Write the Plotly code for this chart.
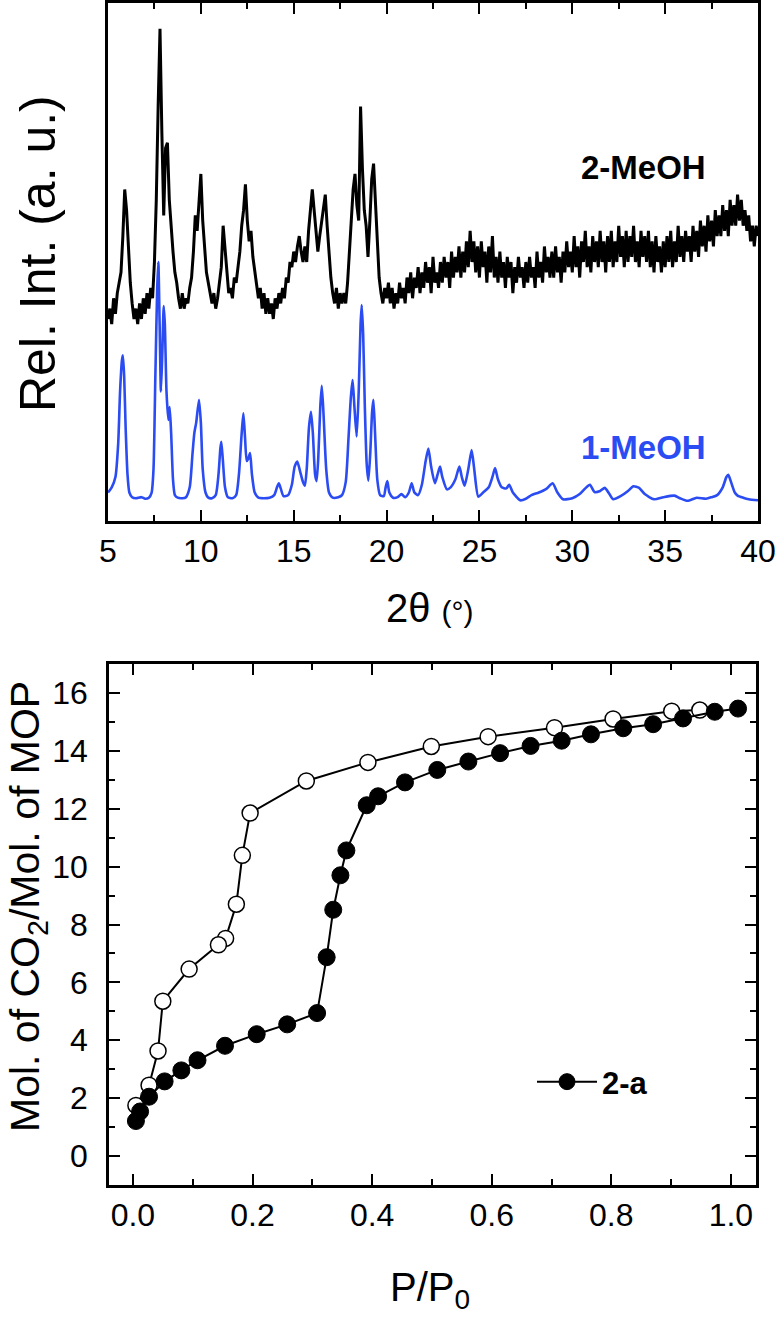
import numpy as np
import plotly.graph_objects as go

# ---------------- XRD data (top panel) ----------------
# 2-MeOH experimental pattern: intensities read at 0.1 deg steps from 5.0 to 40.0
meoh2_start, meoh2_step = 5.0, 0.1
meoh2_int = [
    39, 41, 38, 43, 40, 44, 46, 48, 55, 64,   # 5.0-5.9
    60, 52, 46, 42, 39, 41, 38, 42, 39, 43,   # 6.0-6.9
    40, 44, 41, 45, 43, 50, 62, 80, 95, 75,   # 7.0-7.9
    59, 72, 73, 62, 56, 52, 48, 46, 43, 41,   # 8.0-8.9
    44, 41, 43, 42, 45, 47, 52, 59, 56, 62,   # 9.0-9.9
    67, 58, 52, 48, 46, 44, 42, 44, 41, 43,   # 10.0-10.9
    46, 49, 57, 52, 47, 44, 45, 43, 47, 46,   # 11.0-11.9
    49, 52, 57, 60, 65, 58, 54, 56, 51, 48,   # 12.0-12.9
    46, 43, 45, 41, 44, 40, 43, 40, 42, 39,   # 13.0-13.9
    43, 41, 44, 42, 45, 43, 47, 46, 50, 49,   # 14.0-14.9
    52, 50, 53, 55, 52, 50, 53, 50, 56, 60,   # 15.0-15.9
    64, 60, 55, 52, 55, 58, 61, 63, 57, 51,   # 16.0-16.9
    47, 44, 42, 45, 41, 44, 42, 44, 42, 46,   # 17.0-17.9
    52, 60, 64, 67, 61, 58, 80, 68, 60, 57,   # 18.0-18.9
    51, 58, 66, 69, 62, 54, 47, 44, 42, 45,   # 19.0-19.9
    43, 46, 42, 45, 41, 44, 42, 46, 43, 45,   # 20.0-20.9
    42, 47, 44, 48, 43, 47, 45, 49, 44, 48,   # 21.0-21.9
    45, 50, 46, 49, 44, 51, 46, 48, 45, 50,   # 22.0-22.9
    46, 51, 47, 50, 45, 52, 47, 51, 48, 53,   # 23.0-23.9
    47, 52, 48, 54, 49, 56, 50, 54, 48, 53,   # 24.0-24.9
    47, 54, 49, 52, 46, 53, 48, 55, 47, 51,   # 25.0-25.9
    46, 52, 47, 50, 45, 51, 47, 50, 44, 49,   # 26.0-26.9
    46, 51, 47, 49, 45, 50, 46, 51, 47, 49,   # 27.0-27.9
    45, 52, 47, 50, 46, 53, 48, 51, 47, 52,   # 28.0-28.9
    47, 53, 48, 51, 46, 52, 48, 54, 49, 52,   # 29.0-29.9
    48, 55, 49, 53, 47, 54, 50, 56, 49, 53,   # 30.0-30.9
    48, 55, 50, 54, 49, 56, 50, 54, 48, 55,   # 31.0-31.9
    50, 56, 49, 54, 50, 57, 51, 55, 49, 56,   # 32.0-32.9
    50, 55, 51, 57, 50, 54, 49, 56, 51, 55,   # 33.0-33.9
    50, 56, 49, 54, 48, 55, 50, 53, 48, 54,   # 34.0-34.9
    49, 55, 50, 56, 49, 54, 50, 57, 51, 55,   # 35.0-35.9
    50, 56, 52, 55, 50, 57, 52, 56, 51, 58,   # 36.0-36.9
    53, 57, 52, 59, 54, 58, 53, 60, 55, 59,   # 37.0-37.9
    55, 61, 56, 60, 55, 62, 57, 61, 57, 63,   # 38.0-38.9
    58, 62, 57, 60, 56, 59, 54, 57, 53, 57,   # 39.0-39.9
    55,                                       # 40.0
]
meoh2_2theta = np.round(meoh2_start + meoh2_step * np.arange(len(meoh2_int)), 2)

# 1-MeOH (simulated) pattern: (2theta, intensity) pairs
meoh1_2theta = [
    5.0, 5.2, 5.4, 5.55, 5.65, 5.75, 5.8, 5.87, 5.95, 6.05, 6.15, 6.3, 6.5, 6.8, 7.0, 7.2,
    7.35, 7.45, 7.55, 7.65, 7.71, 7.78, 7.85, 7.93, 8.0, 8.06, 8.15, 8.25, 8.32, 8.4, 8.5,
    8.6, 8.75, 9.0, 9.2, 9.4, 9.55, 9.65, 9.75, 9.9, 10.0, 10.1, 10.25, 10.4, 10.6, 10.8,
    10.95, 11.05, 11.1, 11.18, 11.3, 11.45, 11.7, 11.9, 12.05, 12.2, 12.29, 12.38, 12.47,
    12.55, 12.65, 12.75, 12.9, 13.1, 13.4, 13.7, 13.95, 14.1, 14.2, 14.3, 14.45, 14.7,
    14.9, 15.05, 15.19, 15.35, 15.5, 15.6, 15.7, 15.82, 15.93, 16.03, 16.15, 16.23, 16.32,
    16.43, 16.51, 16.6, 16.75, 16.9, 17.1, 17.4, 17.6, 17.8, 17.95, 18.08, 18.17, 18.27,
    18.39, 18.5, 18.6, 18.66, 18.74, 18.83, 18.93, 19.02, 19.12, 19.22, 19.29, 19.38, 19.5,
    19.65, 19.85, 19.95, 20.04, 20.15, 20.35, 20.6, 20.8, 21.0, 21.2, 21.35, 21.5, 21.7,
    21.9, 22.1, 22.25, 22.4, 22.6, 22.75, 22.88, 23.0, 23.25, 23.45, 23.7, 23.92, 24.05,
    24.2, 24.4, 24.58, 24.72, 24.94, 25.2, 25.5, 25.7, 25.84, 26.0, 26.2, 26.45, 26.6,
    26.8, 27.2, 27.5, 27.8, 28.2, 28.6, 28.94, 29.2, 29.5, 30.0, 30.4, 30.7, 30.95, 31.2,
    31.5, 31.75, 32.0, 32.2, 32.6, 33.0, 33.29, 33.6, 33.9, 34.4, 34.9, 35.5, 35.8, 36.2,
    36.7, 37.2, 37.5, 37.8, 38.1, 38.3, 38.4, 38.55, 38.75, 38.9, 39.2, 39.5, 40.0,
]
meoh1_int = [
    5.5, 6.5, 8.5, 15, 25, 31, 32, 28, 18, 9, 5.5, 4.6, 4.4, 4.6, 4.3, 4.5,
    5.5, 10, 28, 45, 50, 38, 25, 33, 41.5, 38, 25, 19.5, 22, 17, 8,
    5, 4.5, 4.4, 4.6, 6.5, 13, 17, 19, 23.4, 19, 10, 5.5, 4.5, 4.4, 5,
    9, 14, 15.3, 12, 6.5, 4.6, 4.4, 5, 9, 17, 20.8, 16, 11.6,
    12, 13.1, 9, 5.5, 4.5, 4.4, 4.5, 5, 6.5, 7.3, 6.3, 4.8, 5,
    7, 10.5, 11.5, 9.5, 7.5, 6.8, 10, 18, 21.1, 17, 9, 7.7, 12,
    22, 26.1, 21, 10, 5.5, 4.5, 4.6, 5, 7.5, 16, 24, 27.2, 22,
    16.3, 25, 38, 41.7, 36, 22, 11, 7.8, 13, 21, 23.4, 17, 8,
    5, 4.8, 6.5, 7.7, 5.5, 4.5, 4.6, 5.2, 4.6, 5.5, 7.3, 5.5, 5.0,
    7, 11.5, 14.0, 10.5, 7.3, 9, 10.5, 8.5, 6.1, 6.5, 8, 10.5, 8.5,
    6.8, 10, 13.7, 10, 4.7, 5.5, 6.5, 8.5, 10.2, 8, 6.5, 6.3, 7,
    5.5, 4, 4.3, 5, 5.5, 6.2, 7.3, 5.5, 4.2, 4.4, 5.2, 6.3, 7.0, 5.6,
    5.8, 6.4, 5.2, 4.2, 4.8, 5.8, 6.7, 6.4, 5.2, 4.2, 4.6, 4.9, 4.4, 3.9,
    4.5, 4.3, 4.6, 5.0, 6.5, 8.5, 8.9, 7.5, 5.5, 4.9, 4.5, 4.2, 4.0,
]

xrd_ticks = [5, 10, 15, 20, 25, 30, 35, 40]

# ---------------- CO2 isotherm (bottom panel) ----------------
ads_p = [0.005, 0.012, 0.027, 0.053, 0.081, 0.108, 0.154, 0.207, 0.258, 0.308,
         0.324, 0.335, 0.347, 0.357, 0.391, 0.410, 0.455, 0.509, 0.561, 0.614,
         0.665, 0.717, 0.766, 0.820, 0.870, 0.920, 0.973, 1.012]
ads_v = [1.21, 1.54, 2.05, 2.58, 2.96, 3.31, 3.81, 4.21, 4.55, 4.94,
         6.87, 8.51, 9.70, 10.56, 12.12, 12.43, 12.91, 13.34, 13.63, 13.92,
         14.17, 14.35, 14.57, 14.78, 14.92, 15.12, 15.35, 15.46]

des_p = [0.948, 0.901, 0.803, 0.705, 0.594, 0.499, 0.393, 0.290, 0.196, 0.183,
         0.173, 0.155, 0.143, 0.094, 0.050, 0.042, 0.027, 0.005]
des_v = [15.41, 15.37, 15.10, 14.80, 14.49, 14.15, 13.60, 12.96, 11.85, 10.39,
         8.70, 7.52, 7.30, 6.46, 5.35, 3.63, 2.45, 1.75]

iso_xticks = [0.0, 0.2, 0.4, 0.6, 0.8, 1.0]
iso_xlabels = ["0.0", "0.2", "0.4", "0.6", "0.8", "1.0"]
iso_yticks = [0, 2, 4, 6, 8, 10, 12, 14, 16]

# ---------------- figure ----------------
W, H = 777, 1323
ARIAL = "Liberation Sans, Arial, sans-serif"
BLUE = "#2b4cf2"

fig = go.Figure()

fig.add_trace(go.Scatter(x=meoh2_2theta, y=meoh2_int, mode="lines",
                         line=dict(color="black", width=3),
                         xaxis="x", yaxis="y", showlegend=False))
fig.add_trace(go.Scatter(x=meoh1_2theta, y=meoh1_int, mode="lines",
                         line=dict(color=BLUE, width=2.6, shape="spline", smoothing=0.6),
                         xaxis="x", yaxis="y", showlegend=False))

fig.add_trace(go.Scatter(x=des_p, y=des_v, mode="lines+markers",
                         line=dict(color="black", width=2),
                         marker=dict(symbol="circle", size=16, color="white",
                                     line=dict(color="black", width=1.5)),
                         xaxis="x2", yaxis="y2", showlegend=False))
fig.add_trace(go.Scatter(x=ads_p, y=ads_v, mode="lines+markers", name="<b>2-a</b>",
                         line=dict(color="black", width=2),
                         marker=dict(symbol="circle", size=17, color="black",
                                     line=dict(color="black", width=1)),
                         xaxis="x2", yaxis="y2", showlegend=True))

def px_x(p):
    return p / W

def px_y(p):
    return 1 - p / H

axis_common = dict(showline=True, linecolor="black", linewidth=2.5, mirror="ticks",
                   ticks="inside", tickcolor="black", tickwidth=2, showgrid=False,
                   zeroline=False, automargin=False)
minor_common = dict(ticklen=6, ticks="inside", tickcolor="black", tickwidth=2)
tickfont = dict(family=ARIAL, size=32, color="black")

fig.update_layout(
    width=W, height=H,
    margin=dict(l=0, r=0, t=0, b=0, autoexpand=False),
    paper_bgcolor="white", plot_bgcolor="white",
    xaxis=dict(domain=[px_x(108), px_x(758)], range=[5, 40], anchor="y",
               tickvals=xrd_ticks, ticklen=11,
               minor=dict(dtick=2.5, tick0=5, **minor_common),
               tickfont=tickfont, ticklabelstandoff=0, **axis_common),
    yaxis=dict(domain=[px_y(521), px_y(3)], range=[0, 100], anchor="x",
               showticklabels=False, showline=True, linecolor="black", linewidth=2.5,
               mirror=True, ticks="", showgrid=False, zeroline=False, automargin=False),
    xaxis2=dict(domain=[px_x(109), px_x(756)], range=[-0.04, 1.042], anchor="y2",
                tickvals=iso_xticks, ticktext=iso_xlabels, ticklen=11,
                minor=dict(dtick=0.1, tick0=0, **minor_common),
                tickfont=tickfont, ticklabelstandoff=0, **axis_common),
    yaxis2=dict(domain=[px_y(1185), px_y(664)], range=[-1, 17], anchor="x2",
                tickvals=iso_yticks, ticklen=11,
                minor=dict(dtick=1, tick0=1, **minor_common),
                tickfont=tickfont, ticklabelstandoff=12, **axis_common),
    legend=dict(x=px_x(532), y=px_y(1082), xanchor="left", yanchor="middle",
                bgcolor="rgba(0,0,0,0)", borderwidth=0, itemwidth=60,
                font=dict(family=ARIAL, size=31, color="black")),
)

annotations = [
    dict(text="Rel. Int. (a. u.)", x=px_x(38), y=px_y(254), textangle=-90,
         font=dict(family=ARIAL, size=50, color="black")),
    dict(text="2θ <span style='font-size:30px'>(°)</span>", x=px_x(430), y=px_y(608),
         font=dict(family=ARIAL, size=40, color="black")),
    dict(text="<b>2-MeOH</b>", x=px_x(643), y=px_y(167),
         font=dict(family=ARIAL, size=33, color="black")),
    dict(text="<b>1-MeOH</b>", x=px_x(643), y=px_y(447),
         font=dict(family=ARIAL, size=33, color=BLUE)),
    dict(text="Mol. of CO<sub>2</sub>/Mol. of MOP", x=px_x(28), y=px_y(907), textangle=-90,
         font=dict(family=ARIAL, size=41, color="black")),
    dict(text="P/P<sub>0</sub>", x=px_x(430), y=px_y(1290),
         font=dict(family=ARIAL, size=40, color="black")),
]
for a in annotations:
    a.update(xref="paper", yref="paper", showarrow=False, xanchor="center", yanchor="middle")
fig.update_layout(annotations=annotations)

fig.write_html("out.html", config={"displayModeBar": False},
               post_script="document.body.style.margin='0';document.body.style.overflow='hidden';")
